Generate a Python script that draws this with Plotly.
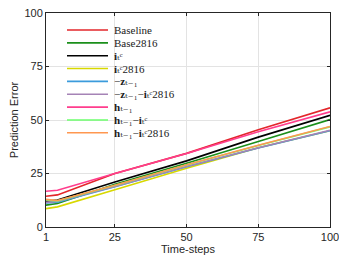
import plotly.graph_objects as go

time_steps = [1, 5, 25, 50, 75, 100]

baseline      = [14.4, 15.0, 25.0, 34.4, 45.4, 55.7]
base2816      = [10.2, 11.0, 20.0, 29.8, 40.0, 50.2]
i_t           = [12.0, 12.6, 21.0, 30.9, 42.0, 52.2]
i_t2816       = [8.6, 9.4, 17.4, 27.5, 37.0, 45.0]
z_t1          = [11.2, 11.6, 18.8, 28.2, 36.9, 45.0]
z_t1_i2816    = [11.5, 11.9, 18.9, 28.3, 37.0, 45.2]
h_t1          = [16.7, 17.2, 25.0, 34.3, 44.5, 53.8]
h_t1_i        = [12.6, 12.2, 19.4, 29.0, 38.1, 46.8]
h_t1_i2816    = [12.9, 12.4, 19.5, 29.1, 38.2, 47.0]

names = [
    "Baseline",
    "Base2816",
    "<b>i</b>ₜᶜ",
    "<b>i</b>ₜᶜ2816",
    "−<b>z</b>ₜ₋₁",
    "−<b>z</b>ₜ₋₁−<b>i</b>ₜᶜ2816",
    "<b>h</b>ₜ₋₁",
    "<b>h</b>ₜ₋₁−<b>i</b>ₜᶜ",
    "<b>h</b>ₜ₋₁−<b>i</b>ₜᶜ2816",
]
series = [baseline, base2816, i_t, i_t2816, z_t1, z_t1_i2816, h_t1, h_t1_i, h_t1_i2816]
colors = ["#e3262b", "#1b8f1b", "#000000", "#d8d800", "#3b9bdc",
          "#a583b6", "#ff3d8d", "#6cff6c", "#ff9750"]

fig = go.Figure()
for n, s, c in zip(names, series, colors):
    fig.add_trace(go.Scatter(x=time_steps, y=s, mode="lines", name=n,
                             line=dict(color=c, width=1.6), showlegend=False))

# compact legend (key lines + labels), placed in paper coordinates
W, H = 331, 247
ML, MR, MT, MB = 38, 9, 5, 28
plot_h = H - MT - MB
plot_w = W - ML - MR
for i, (n, c) in enumerate(zip(names, colors)):
    yp = (plot_h - (22.0 - MT + 12.85 * i)) / plot_h
    fig.add_shape(type="line", xref="paper", yref="paper",
                  x0=21.0 / plot_w, x1=62.0 / plot_w, y0=yp, y1=yp,
                  line=dict(color=c, width=1.6))
    fig.add_annotation(xref="paper", yref="paper", x=66.0 / plot_w, y=yp,
                       xanchor="left", yanchor="middle", showarrow=False,
                       text=n, font=dict(family="Liberation Serif, DejaVu Serif",
                                         size=11, color="#1a1a1a"))

font_sans = dict(family="Liberation Sans, Arial", size=11, color="#262626")
axis_common = dict(
    showline=True, linecolor="#262626", linewidth=1, mirror="ticks",
    ticks="inside", ticklen=3, tickcolor="#262626",
    showgrid=True, gridcolor="#e3e3e3", gridwidth=1, zeroline=False,
    tickfont=font_sans, automargin=False, ticklabeloverflow="allow",
)

fig.update_layout(
    width=W, height=H,
    margin=dict(l=ML, r=MR, t=MT, b=MB),
    paper_bgcolor="white", plot_bgcolor="white",
    xaxis=dict(range=[1, 100], tickvals=[1, 25, 50, 75, 100],
               title=dict(text="Time-steps", standoff=2, font=font_sans),
               **axis_common),
    yaxis=dict(range=[0, 100], tickvals=[0, 25, 50, 75, 100],
               title=dict(text="Prediction Error", standoff=6, font=font_sans),
               **axis_common),
    showlegend=False,
)

fig.write_html("out.html")
